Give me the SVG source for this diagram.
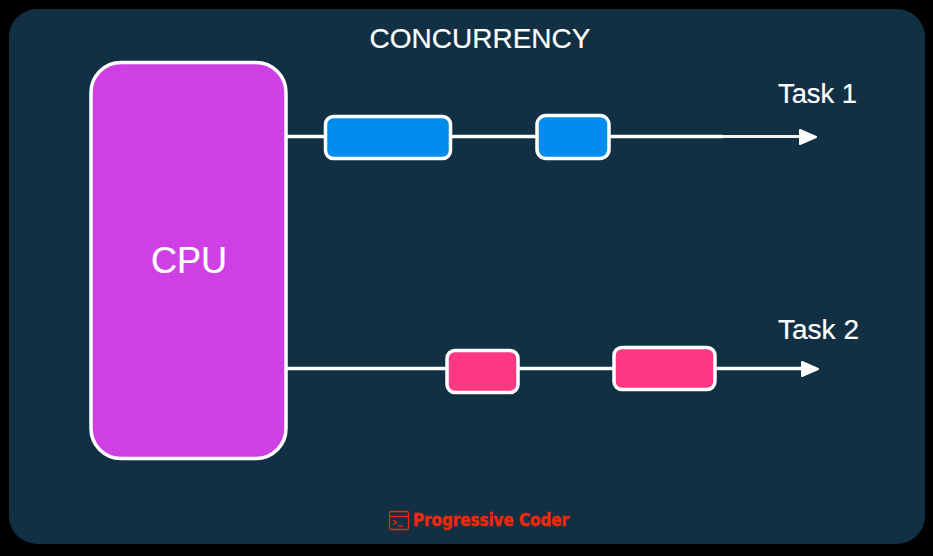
<svg xmlns="http://www.w3.org/2000/svg" width="933" height="556" viewBox="0 0 933 556">
<style>
text{font-family:"Liberation Sans",Arial,sans-serif;fill:#fff}
.c{fill:none;stroke:#fff;stroke-width:3.500}
.d{fill:none;stroke:#f0f3f4;stroke-width:3}
.t{stroke:#fff;stroke-width:3.500}
.b{fill:#008ded}
.p{fill:#ff3884}
.l{font-size:27px}
.i{fill:none;stroke:#e8290b;stroke-width:1.300}
</style>
<defs>
<path id="h" d="M0 -7L16 0L0 7Z" fill="#fff" stroke="#fff" stroke-width="2" stroke-linejoin="round"/>
</defs>
<rect width="933" height="556" fill="#000"/>
<rect x="9" y="9" width="916" height="535" rx="28" fill="#123044"/>
<g id="connectors">
<path class="c" d="M287 136.500H723"/>
<path class="d" d="M723 136.500H805"/>
<use href="#h" x="800" y="137"/>
<path class="c" d="M287 368.500H807"/>
<use href="#h" x="802" y="369"/>
</g>
<text x="480" y="48" font-size="28" text-anchor="middle" textLength="221" lengthAdjust="spacingAndGlyphs" stroke="#fff" stroke-width="0.200">CONCURRENCY</text>
<g id="cpu"><rect class="t" x="91" y="62.500" width="195" height="396" rx="30" fill="#cf40e4"/><text x="189" y="273" font-size="36" text-anchor="middle" stroke="#fff" stroke-width="0.200">CPU</text></g>
<g id="task1-a"><rect class="t b" x="325.500" y="116.500" width="125" height="42" rx="8"/></g>
<g id="task1-b"><rect class="t b" x="537" y="115.500" width="72" height="43" rx="9"/></g>
<g id="task2-a"><rect class="t p" x="447" y="350.500" width="71" height="42" rx="8"/></g>
<g id="task2-b"><rect class="t p" x="614" y="347.500" width="101" height="42" rx="8"/></g>
<g id="task1-label"><text class="l" x="778" y="103" textLength="79" lengthAdjust="spacingAndGlyphs" stroke="#fff" stroke-width="0.200">Task 1</text></g>
<g id="task2-label"><text class="l" x="778" y="339" textLength="81" lengthAdjust="spacingAndGlyphs" stroke="#fff" stroke-width="0.200">Task 2</text></g>
<g id="logo">
<rect class="i" x="389.500" y="511.500" width="19" height="18" rx="1.500"/>
<path class="i" d="M389.500 516.500H408.500M393 520L396.500 522.500L393 525M398.500 526H403"/>
<text x="413" y="526" font-size="17" font-weight="700" stroke="#f2280a" stroke-width="0.400" style="font-family:'DejaVu Sans',sans-serif;fill:#f2280a" textLength="156" lengthAdjust="spacingAndGlyphs">Progressive Coder</text>
</g>
</svg>
